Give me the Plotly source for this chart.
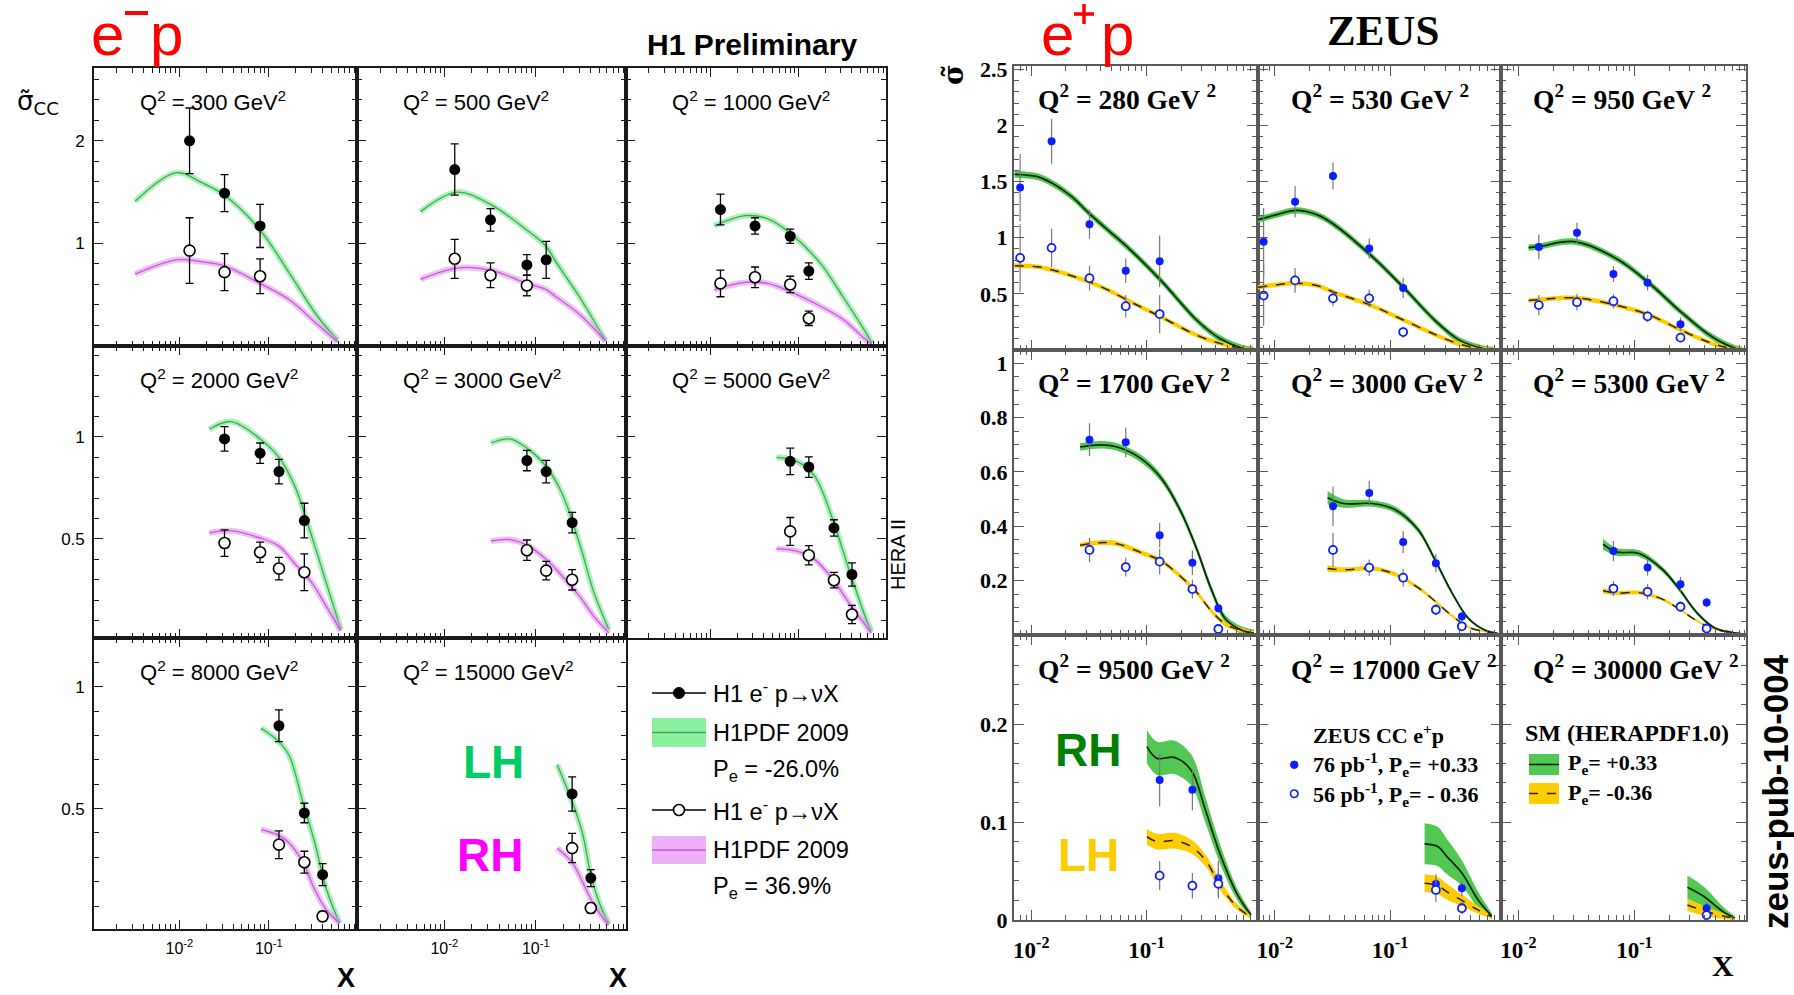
import plotly.graph_objects as go

W, H = 1794, 995

# ======================= H1 (e-p) data =======================
h1_q2_labels = ["300", "500", "1000", "2000", "3000", "5000", "8000", "15000"]

h1_300_x = [0.013, 0.032, 0.08]
h1_300_lh = [2.0, 1.49, 1.17]
h1_300_lh_err = [0.32, 0.18, 0.21]
h1_300_rh_x = [0.013, 0.032, 0.08]
h1_300_rh = [0.93, 0.72, 0.68]
h1_300_rh_err = [0.32, 0.18, 0.17]
h1_300_cx = [0.0032, 0.0093, 0.018, 0.032, 0.08, 0.17, 0.35, 0.59]
h1_300_lh_fit = [1.41, 1.69, 1.59, 1.47, 1.13, 0.71, 0.29, 0.06]
h1_300_rh_fit = [0.70, 0.84, 0.82, 0.78, 0.61, 0.45, 0.21, 0.04]

h1_500_x = [0.013, 0.032, 0.08, 0.13]
h1_500_lh = [1.72, 1.23, 0.79, 0.84]
h1_500_lh_err = [0.25, 0.11, 0.10, 0.18]
h1_500_rh_x = [0.013, 0.032, 0.08]
h1_500_rh = [0.85, 0.69, 0.59]
h1_500_rh_err = [0.19, 0.12, 0.10]
h1_500_cx = [0.0055, 0.0138, 0.032, 0.08, 0.13, 0.166, 0.30, 0.58]
h1_500_lh_fit = [1.31, 1.50, 1.38, 1.13, 0.97, 0.82, 0.48, 0.05]
h1_500_rh_fit = [0.65, 0.76, 0.74, 0.61, 0.55, 0.48, 0.31, 0.05]

h1_1000_x = [0.013, 0.032, 0.08, 0.13]
h1_1000_lh = [1.33, 1.17, 1.07, 0.73]
h1_1000_lh_err = [0.15, 0.08, 0.07, 0.08]
h1_1000_rh_x = [0.013, 0.032, 0.08, 0.13]
h1_1000_rh = [0.61, 0.67, 0.60, 0.27]
h1_1000_rh_err = [0.13, 0.10, 0.08, 0.07]
h1_1000_cx = [0.0111, 0.0245, 0.0447, 0.08, 0.174, 0.316, 0.575, 0.67]
h1_1000_lh_fit = [1.17, 1.27, 1.24, 1.10, 0.81, 0.48, 0.13, 0.03]
h1_1000_rh_fit = [0.55, 0.62, 0.61, 0.53, 0.39, 0.26, 0.06, 0.02]

h1_2000_x = [0.032, 0.08, 0.13, 0.25]
h1_2000_lh = [0.99, 0.92, 0.83, 0.59]
h1_2000_lh_err = [0.06, 0.05, 0.06, 0.085]
h1_2000_rh_x = [0.032, 0.08, 0.13, 0.25]
h1_2000_rh = [0.48, 0.435, 0.355, 0.337]
h1_2000_rh_err = [0.065, 0.05, 0.055, 0.09]
h1_2000_cx = [0.0216, 0.038, 0.08, 0.13, 0.195, 0.304, 0.44, 0.64]
h1_2000_lh_fit = [1.037, 1.075, 0.99, 0.90, 0.76, 0.51, 0.285, 0.057]
h1_2000_rh_fit = [0.53, 0.54, 0.505, 0.465, 0.38, 0.285, 0.17, 0.05]

h1_3000_x = [0.08, 0.13, 0.25]
h1_3000_lh = [0.884, 0.83, 0.58]
h1_3000_lh_err = [0.05, 0.055, 0.05]
h1_3000_rh_x = [0.08, 0.13, 0.25]
h1_3000_rh = [0.445, 0.345, 0.30]
h1_3000_rh_err = [0.05, 0.045, 0.05]
h1_3000_cx = [0.0324, 0.0518, 0.08, 0.13, 0.193, 0.30, 0.434, 0.63]
h1_3000_lh_fit = [0.97, 0.99, 0.945, 0.855, 0.725, 0.48, 0.236, 0.057]
h1_3000_rh_fit = [0.49, 0.497, 0.47, 0.40, 0.32, 0.22, 0.12, 0.04]

h1_5000_x = [0.08, 0.13, 0.25, 0.40]
h1_5000_lh = [0.88, 0.852, 0.554, 0.326]
h1_5000_lh_err = [0.065, 0.05, 0.04, 0.057]
h1_5000_rh_x = [0.08, 0.13, 0.25, 0.40]
h1_5000_rh = [0.537, 0.42, 0.298, 0.13]
h1_5000_rh_err = [0.068, 0.047, 0.038, 0.045]
h1_5000_cx = [0.056, 0.095, 0.15, 0.236, 0.37, 0.58, 0.66]
h1_5000_lh_fit = [0.90, 0.88, 0.81, 0.61, 0.35, 0.106, 0.05]
h1_5000_rh_fit = [0.453, 0.44, 0.40, 0.31, 0.187, 0.073, 0.04]

h1_8000_x = [0.13, 0.25, 0.40]
h1_8000_lh = [0.84, 0.482, 0.229]
h1_8000_lh_err = [0.065, 0.04, 0.045]
h1_8000_rh_x = [0.13, 0.25, 0.40]
h1_8000_rh = [0.352, 0.28, 0.058]
h1_8000_rh_err = [0.057, 0.045, 0.02]
h1_8000_cx = [0.082, 0.125, 0.168, 0.243, 0.327, 0.44, 0.62]
h1_8000_lh_fit = [0.83, 0.78, 0.72, 0.52, 0.36, 0.17, 0.03]
h1_8000_rh_fit = [0.414, 0.393, 0.36, 0.277, 0.167, 0.085, 0.03]

h1_15000_x = [0.25, 0.40]
h1_15000_lh = [0.56, 0.215]
h1_15000_lh_err = [0.07, 0.035]
h1_15000_rh_x = [0.25, 0.40]
h1_15000_rh = [0.338, 0.092]
h1_15000_rh_err = [0.06, 0.02]
h1_15000_cx = [0.172, 0.252, 0.324, 0.404, 0.50, 0.625]
h1_15000_lh_fit = [0.68, 0.525, 0.40, 0.22, 0.11, 0.03]
h1_15000_rh_fit = [0.338, 0.277, 0.20, 0.126, 0.07, 0.023]

# ======================= ZEUS (e+p) data =======================
zeus_q2_labels = ["280", "530", "950", "1700", "3000", "5300", "9500", "17000", "30000"]

z_280_x = [0.008, 0.015, 0.032, 0.066, 0.13]
z_280_pos = [1.447, 1.86, 1.12, 0.706, 0.79]
z_280_pos_err = [0.30, 0.20, 0.13, 0.11, 0.23]
z_280_neg = [0.82, 0.91, 0.64, 0.39, 0.32]
z_280_neg_err = [0.30, 0.17, 0.11, 0.10, 0.17]
z_280_cx = [0.00716, 0.01127, 0.0152, 0.0223, 0.0326, 0.0473, 0.069, 0.1337, 0.2735, 0.4325, 0.682, 0.855]
z_280_pos_fit = [1.565, 1.544, 1.485, 1.368, 1.206, 1.059, 0.912, 0.618, 0.265, 0.103, 0.015, 0.0]
z_280_neg_fit = [0.75, 0.741, 0.712, 0.662, 0.603, 0.53, 0.441, 0.294, 0.132, 0.059, 0.012, 0.0]
z_280_pos_unc = 0.03
z_280_neg_unc = 0.02

z_530_x = [0.008, 0.015, 0.032, 0.066, 0.13]
z_530_pos = [0.965, 1.32, 1.55, 0.905, 0.553]
z_530_pos_err = [0.30, 0.14, 0.12, 0.09, 0.09]
z_530_neg = [0.485, 0.62, 0.46, 0.46, 0.16]
z_530_neg_err = [0.27, 0.11, 0.07, 0.08, 0.05]
z_530_cx = [0.00716, 0.0104, 0.0152, 0.0231, 0.0326, 0.069, 0.132, 0.253, 0.399, 0.63, 0.791]
z_530_pos_fit = [1.162, 1.206, 1.244, 1.206, 1.118, 0.838, 0.553, 0.25, 0.088, 0.015, 0.0]
z_530_neg_fit = [0.559, 0.582, 0.594, 0.574, 0.515, 0.397, 0.265, 0.132, 0.053, 0.009, 0.0]
z_530_pos_unc = 0.028
z_530_neg_unc = 0.02

z_950_x = [0.015, 0.032, 0.066, 0.13, 0.25]
z_950_pos = [0.918, 1.044, 0.676, 0.60, 0.23]
z_950_pos_err = [0.11, 0.09, 0.07, 0.07, 0.06]
z_950_neg = [0.40, 0.426, 0.435, 0.30, 0.11]
z_950_neg_err = [0.09, 0.075, 0.065, 0.05, 0.04]
z_950_cx = [0.01225, 0.0157, 0.0304, 0.0714, 0.1368, 0.253, 0.468, 0.738, 0.855]
z_950_pos_fit = [0.912, 0.926, 0.965, 0.809, 0.588, 0.338, 0.118, 0.015, 0.0]
z_950_neg_fit = [0.441, 0.45, 0.465, 0.397, 0.309, 0.176, 0.059, 0.006, 0.0]
z_950_pos_unc = 0.028
z_950_neg_unc = 0.02

z_1700_x = [0.032, 0.066, 0.13, 0.25, 0.42]
z_1700_pos = [0.719, 0.709, 0.367, 0.266, 0.098]
z_1700_pos_err = [0.06, 0.055, 0.045, 0.045, 0.015]
z_1700_neg = [0.313, 0.25, 0.27, 0.169, 0.022]
z_1700_neg_err = [0.045, 0.035, 0.047, 0.035, 0.01]
z_1700_cx = [0.0265, 0.0395, 0.0556, 0.0877, 0.1337, 0.1945, 0.2735, 0.364, 0.484, 0.682, 0.855]
z_1700_pos_fit = [0.692, 0.70, 0.692, 0.652, 0.578, 0.462, 0.315, 0.169, 0.059, 0.016, 0.006]
z_1700_neg_fit = [0.33, 0.34, 0.336, 0.305, 0.273, 0.218, 0.156, 0.089, 0.04, 0.016, 0.006]
z_1700_pos_unc = 0.014
z_1700_neg_unc = 0.009

z_3000_x = [0.032, 0.066, 0.13, 0.25, 0.42]
z_3000_pos = [0.474, 0.523, 0.342, 0.264, 0.068]
z_3000_pos_err = [0.073, 0.045, 0.04, 0.033, 0.018]
z_3000_neg = [0.313, 0.248, 0.211, 0.093, 0.032]
z_3000_neg_err = [0.063, 0.03, 0.033, 0.02, 0.012]
z_3000_cx = [0.0287, 0.0395, 0.0698, 0.110, 0.174, 0.244, 0.344, 0.484, 0.682, 0.855]
z_3000_pos_fit = [0.505, 0.484, 0.484, 0.462, 0.389, 0.279, 0.156, 0.059, 0.016, 0.006]
z_3000_neg_fit = [0.245, 0.24, 0.245, 0.224, 0.175, 0.126, 0.071, 0.028, 0.012, 0.005]
z_3000_pos_unc = [0.025, 0.016, 0.012, 0.012, 0.011, 0.01, 0.008, 0.006, 0.004, 0.003]
z_3000_neg_unc = [0.012, 0.009, 0.008, 0.008, 0.007, 0.006, 0.005, 0.004, 0.003, 0.002]

z_5300_x = [0.066, 0.13, 0.25, 0.42]
z_5300_pos = [0.309, 0.248, 0.187, 0.12]
z_5300_pos_err = [0.037, 0.03, 0.027, 0.018]
z_5300_neg = [0.171, 0.159, 0.104, 0.024]
z_5300_neg_err = [0.028, 0.028, 0.02, 0.01]
z_5300_cx = [0.0537, 0.0698, 0.110, 0.174, 0.244, 0.344, 0.484, 0.682, 0.855]
z_5300_pos_fit = [0.334, 0.306, 0.30, 0.242, 0.169, 0.083, 0.028, 0.01, 0.004]
z_5300_neg_fit = [0.163, 0.154, 0.156, 0.132, 0.095, 0.053, 0.022, 0.01, 0.004]
z_5300_pos_unc = [0.02, 0.014, 0.012, 0.01, 0.009, 0.007, 0.005, 0.003, 0.002]
z_5300_neg_unc = [0.01, 0.008, 0.007, 0.006, 0.005, 0.004, 0.003, 0.002, 0.002]

z_9500_x = [0.13, 0.25, 0.42]
z_9500_pos = [0.143, 0.133, 0.0426]
z_9500_pos_err = [0.027, 0.021, 0.018]
z_9500_neg = [0.0453, 0.035, 0.037]
z_9500_neg_err = [0.015, 0.013, 0.015]
z_9500_cx = [0.1007, 0.1233, 0.174, 0.244, 0.325, 0.4325, 0.608, 0.807]
z_9500_pos_fit = [0.177, 0.165, 0.166, 0.153, 0.112, 0.068, 0.027, 0.005]
z_9500_neg_fit = [0.085, 0.08, 0.081, 0.075, 0.061, 0.036, 0.0136, 0.003]
z_9500_pos_unc = [0.017, 0.017, 0.017, 0.016, 0.013, 0.01, 0.006, 0.003]
z_9500_neg_unc = [0.008, 0.008, 0.008, 0.007, 0.006, 0.005, 0.003, 0.002]

z_17000_x = [0.25, 0.42]
z_17000_pos = [0.0368, 0.0324]
z_17000_pos_err = [0.01, 0.008]
z_17000_neg = [0.0307, 0.012]
z_17000_neg_err = [0.012, 0.006]
z_17000_cx = [0.1995, 0.26, 0.3105, 0.42, 0.586, 0.764]
z_17000_pos_fit = [0.0778, 0.075, 0.065, 0.048, 0.020, 0.004]
z_17000_neg_fit = [0.0376, 0.035, 0.029, 0.020, 0.010, 0.0034]
z_17000_pos_unc = [0.021, 0.02, 0.018, 0.013, 0.008, 0.003]
z_17000_neg_unc = [0.009, 0.009, 0.008, 0.006, 0.004, 0.002]

z_30000_x = [0.42]
z_30000_pos = [0.012]
z_30000_pos_err = [0.006]
z_30000_neg = [0.005]
z_30000_neg_err = [0.004]
z_30000_cx = [0.287, 0.398, 0.583, 0.733]
z_30000_pos_fit = [0.0335, 0.024, 0.0085, 0.002]
z_30000_neg_fit = [0.0153, 0.0095, 0.004, 0.002]
z_30000_pos_unc = [0.012, 0.010, 0.005, 0.002]
z_30000_neg_unc = [0.006, 0.005, 0.003, 0.002]

# ======================= layout geometry (pixels) =======================
H1_COLS = [94, 357, 626, 886]
H1_ROWS = [68, 346, 638, 929]
H1_YRANGES = [[0.0, 2.71], [0.015, 1.445], [0.006, 1.2]]
H1_YTICKS = [[1, 2], [0.5, 1], [0.5, 1]]
H1_YMINOR = [0.2, 0.1, 0.1]
H1_XRANGE = [-2.955, -0.013]

Z_COLS = [1014, 1257.5, 1501, 1746]
Z_ROWS = [66, 350, 635, 920]
Z_YRANGES = [[0.0, 2.53], [0.0, 1.049], [0.0, 0.291]]
Z_YTICKS = [[0.5, 1, 1.5, 2, 2.5], [0.2, 0.4, 0.6, 0.8, 1], [0, 0.1, 0.2]]
Z_YTEXT = [["0.5", "1", "1.5", "2", "2.5"], ["0.2", "0.4", "0.6", "0.8", "1"], ["0", "0.1", "0.2"]]
Z_YMINOR = [0.1, 0.05, 0.02]
Z_XRANGE = [-2.15, -0.037]

SANS = "Liberation Sans, Arial, sans-serif"
SERIF = "Liberation Serif, Times New Roman, serif"

H1_GREEN_BAND = "rgba(110,225,135,0.55)"
H1_GREEN_LINE = "#37ad4c"
H1_PURPLE_BAND = "rgba(225,140,240,0.55)"
H1_PURPLE_LINE = "#c45ad4"
Z_GREEN = "#52c852"
Z_YELLOW = "#ffcc00"
Z_BLUE = "#0a1eff"
RED = "#ff0000"

LOG_MINOR = [k * 10.0 ** e for e in (-3, -2, -1) for k in range(2, 10)]


def px(x):
    return x / W


def py(y):
    return 1 - y / H


def aname(kind, n):
    return f"{kind}axis" + ("" if n == 1 else str(n))


def aref(kind, n):
    return kind + ("" if n == 1 else str(n))


def minor_lin(lo, hi, step, majors):
    vals = []
    k = 0
    while k * step <= hi + 1e-9:
        v = round(k * step, 4)
        if v >= lo and all(abs(v - m) > 1e-6 for m in majors):
            vals.append(v)
        k += 1
    return vals


fig = go.Figure()
axes = {}
annotations = []
shapes = []


def text(t, x, y, size, family=SANS, color="black", weight="normal", xa="center", angle=0, ya="middle"):
    annotations.append(dict(text=t, x=px(x), y=py(y), xref="paper", yref="paper",
                            xanchor=xa, yanchor=ya, showarrow=False, textangle=angle,
                            font=dict(family=family, size=size, color=color, weight=weight)))


def seg(x0, y0, x1, y1, color, width, dash="solid"):
    shapes.append(dict(type="line", xref="paper", yref="paper", x0=px(x0), x1=px(x1),
                       y0=py(y0), y1=py(y1), line=dict(color=color, width=width, dash=dash)))


# ----------------------- H1 panels -----------------------
h1_panels = [
    (0, 0, "300", h1_300_x, h1_300_lh, h1_300_lh_err, h1_300_rh_x, h1_300_rh, h1_300_rh_err, h1_300_cx, h1_300_lh_fit, h1_300_rh_fit),
    (0, 1, "500", h1_500_x, h1_500_lh, h1_500_lh_err, h1_500_rh_x, h1_500_rh, h1_500_rh_err, h1_500_cx, h1_500_lh_fit, h1_500_rh_fit),
    (0, 2, "1000", h1_1000_x, h1_1000_lh, h1_1000_lh_err, h1_1000_rh_x, h1_1000_rh, h1_1000_rh_err, h1_1000_cx, h1_1000_lh_fit, h1_1000_rh_fit),
    (1, 0, "2000", h1_2000_x, h1_2000_lh, h1_2000_lh_err, h1_2000_rh_x, h1_2000_rh, h1_2000_rh_err, h1_2000_cx, h1_2000_lh_fit, h1_2000_rh_fit),
    (1, 1, "3000", h1_3000_x, h1_3000_lh, h1_3000_lh_err, h1_3000_rh_x, h1_3000_rh, h1_3000_rh_err, h1_3000_cx, h1_3000_lh_fit, h1_3000_rh_fit),
    (1, 2, "5000", h1_5000_x, h1_5000_lh, h1_5000_lh_err, h1_5000_rh_x, h1_5000_rh, h1_5000_rh_err, h1_5000_cx, h1_5000_lh_fit, h1_5000_rh_fit),
    (2, 0, "8000", h1_8000_x, h1_8000_lh, h1_8000_lh_err, h1_8000_rh_x, h1_8000_rh, h1_8000_rh_err, h1_8000_cx, h1_8000_lh_fit, h1_8000_rh_fit),
    (2, 1, "15000", h1_15000_x, h1_15000_lh, h1_15000_lh_err, h1_15000_rh_x, h1_15000_rh, h1_15000_rh_err, h1_15000_cx, h1_15000_lh_fit, h1_15000_rh_fit),
]

H1_LINE = "#1a1a1a"
n = 0
for (r, c, q2, lx, ly, le, rx, ry, re_, cx, lfit, rfit) in h1_panels:
    n += 1
    x0, x1 = H1_COLS[c], H1_COLS[c + 1]
    y0, y1 = H1_ROWS[r], H1_ROWS[r + 1]
    show_x = (r == 2)
    yr = H1_YRANGES[r]
    axes[aname("x", n)] = dict(
        type="log", range=H1_XRANGE, domain=[px(x0), px(x1)], anchor=aref("y", n),
        showline=True, linecolor=H1_LINE, linewidth=1.6, mirror="allticks",
        ticks="inside", ticklen=9, tickwidth=1.3, tickcolor=H1_LINE,
        tickmode="array", tickvals=[0.01, 0.1],
        ticktext=["10<sup>-2</sup>", "10<sup>-1</sup>"],
        showticklabels=show_x, ticklabelstandoff=4, automargin=False,
        tickfont=dict(family=SANS, size=16, color="black"),
        minor=dict(tickmode="array", tickvals=LOG_MINOR, ticks="inside", ticklen=5,
                   tickwidth=1.1, tickcolor=H1_LINE),
        showgrid=False, zeroline=False, fixedrange=True,
    )
    axes[aname("y", n)] = dict(
        range=yr, domain=[py(y1), py(y0)], anchor=aref("x", n),
        showline=True, linecolor=H1_LINE, linewidth=1.6, mirror="allticks",
        ticks="inside", ticklen=9, tickwidth=1.3, tickcolor=H1_LINE,
        tickmode="array", tickvals=H1_YTICKS[r], ticktext=[str(v) for v in H1_YTICKS[r]],
        showticklabels=(c == 0), ticklabelstandoff=4, automargin=False,
        tickfont=dict(family=SANS, size=17, color="black"),
        minor=dict(tickmode="array", tickvals=minor_lin(yr[0], yr[1], H1_YMINOR[r], H1_YTICKS[r]),
                   ticks="inside", ticklen=5, tickwidth=1.1, tickcolor=H1_LINE),
        showgrid=False, zeroline=False, fixedrange=True,
    )
    xa, ya = aref("x", n), aref("y", n)
    for fit, band, line in ((lfit, H1_GREEN_BAND, H1_GREEN_LINE), (rfit, H1_PURPLE_BAND, H1_PURPLE_LINE)):
        fig.add_trace(go.Scatter(x=cx, y=fit, mode="lines", xaxis=xa, yaxis=ya, hoverinfo="skip",
                                 line=dict(color=band, width=6, shape="spline", smoothing=1.0)))
        fig.add_trace(go.Scatter(x=cx, y=fit, mode="lines", xaxis=xa, yaxis=ya, hoverinfo="skip",
                                 line=dict(color=line, width=1.3, shape="spline", smoothing=1.0)))
    fig.add_trace(go.Scatter(x=rx, y=ry, mode="markers", xaxis=xa, yaxis=ya,
                             marker=dict(size=11, color="white", line=dict(color="black", width=1.6)),
                             error_y=dict(type="data", array=re_, color="black", thickness=1.3, width=4)))
    fig.add_trace(go.Scatter(x=lx, y=ly, mode="markers", xaxis=xa, yaxis=ya,
                             marker=dict(size=11, color="black"),
                             error_y=dict(type="data", array=le, color="black", thickness=1.3, width=4)))
    text(f"Q<sup>2</sup> = {q2} GeV<sup>2</sup>", x0 + 44, y0 + 33, 22, xa="left")

# ----------------------- ZEUS panels -----------------------
z_panels = [
    (0, 0, "280", z_280_x, z_280_pos, z_280_pos_err, z_280_neg, z_280_neg_err, z_280_cx, z_280_pos_fit, z_280_neg_fit, z_280_pos_unc, z_280_neg_unc),
    (0, 1, "530", z_530_x, z_530_pos, z_530_pos_err, z_530_neg, z_530_neg_err, z_530_cx, z_530_pos_fit, z_530_neg_fit, z_530_pos_unc, z_530_neg_unc),
    (0, 2, "950", z_950_x, z_950_pos, z_950_pos_err, z_950_neg, z_950_neg_err, z_950_cx, z_950_pos_fit, z_950_neg_fit, z_950_pos_unc, z_950_neg_unc),
    (1, 0, "1700", z_1700_x, z_1700_pos, z_1700_pos_err, z_1700_neg, z_1700_neg_err, z_1700_cx, z_1700_pos_fit, z_1700_neg_fit, z_1700_pos_unc, z_1700_neg_unc),
    (1, 1, "3000", z_3000_x, z_3000_pos, z_3000_pos_err, z_3000_neg, z_3000_neg_err, z_3000_cx, z_3000_pos_fit, z_3000_neg_fit, z_3000_pos_unc, z_3000_neg_unc),
    (1, 2, "5300", z_5300_x, z_5300_pos, z_5300_pos_err, z_5300_neg, z_5300_neg_err, z_5300_cx, z_5300_pos_fit, z_5300_neg_fit, z_5300_pos_unc, z_5300_neg_unc),
    (2, 0, "9500", z_9500_x, z_9500_pos, z_9500_pos_err, z_9500_neg, z_9500_neg_err, z_9500_cx, z_9500_pos_fit, z_9500_neg_fit, z_9500_pos_unc, z_9500_neg_unc),
    (2, 1, "17000", z_17000_x, z_17000_pos, z_17000_pos_err, z_17000_neg, z_17000_neg_err, z_17000_cx, z_17000_pos_fit, z_17000_neg_fit, z_17000_pos_unc, z_17000_neg_unc),
    (2, 2, "30000", z_30000_x, z_30000_pos, z_30000_pos_err, z_30000_neg, z_30000_neg_err, z_30000_cx, z_30000_pos_fit, z_30000_neg_fit, z_30000_pos_unc, z_30000_neg_unc),
]

Z_LINE = "#595959"
Z_QX = [22, 31, 30]
for (r, c, q2, xs, pos, pos_e, neg, neg_e, cx, pfit, nfit, punc, nunc) in z_panels:
    n += 1
    x0, x1 = Z_COLS[c], Z_COLS[c + 1]
    y0, y1 = Z_ROWS[r], Z_ROWS[r + 1]
    yr = Z_YRANGES[r]
    axes[aname("x", n)] = dict(
        type="log", range=Z_XRANGE, domain=[px(x0), px(x1)], anchor=aref("y", n),
        showline=True, linecolor=Z_LINE, linewidth=2.4, mirror="allticks",
        ticks="inside", ticklen=10, tickwidth=1.3, tickcolor=Z_LINE,
        tickmode="array", tickvals=[0.01, 0.1],
        ticktext=["10<sup>-2</sup>", "10<sup>-1</sup>"],
        showticklabels=(r == 2), ticklabelstandoff=8, automargin=False,
        tickfont=dict(family=SERIF, size=23, color="black", weight="bold"),
        minor=dict(tickmode="array", tickvals=LOG_MINOR, ticks="inside", ticklen=5,
                   tickwidth=1.0, tickcolor=Z_LINE),
        showgrid=False, zeroline=False, fixedrange=True,
    )
    axes[aname("y", n)] = dict(
        range=yr, domain=[py(y1), py(y0)], anchor=aref("x", n),
        showline=True, linecolor=Z_LINE, linewidth=2.4, mirror="allticks",
        ticks="inside", ticklen=10, tickwidth=1.3, tickcolor=Z_LINE,
        tickmode="array", tickvals=Z_YTICKS[r], ticktext=Z_YTEXT[r],
        showticklabels=(c == 0), automargin=False,
        tickfont=dict(family=SERIF, size=22, color="black", weight="bold"),
        minor=dict(tickmode="array", tickvals=minor_lin(yr[0], yr[1], Z_YMINOR[r], Z_YTICKS[r]),
                   ticks="inside", ticklen=5, tickwidth=1.0, tickcolor=Z_LINE),
        showgrid=False, zeroline=False, fixedrange=True,
    )
    xa, ya = aref("x", n), aref("y", n)
    for fit, unc, col in ((pfit, punc, Z_GREEN), (nfit, nunc, Z_YELLOW)):
        hw = unc if isinstance(unc, list) else [unc] * len(fit)
        lo = [v - h for v, h in zip(fit, hw)]
        hi = [v + h for v, h in zip(fit, hw)]
        fig.add_trace(go.Scatter(x=cx, y=lo, mode="lines", xaxis=xa, yaxis=ya, hoverinfo="skip",
                                 line=dict(width=0, color=col, shape="spline", smoothing=1.0)))
        fig.add_trace(go.Scatter(x=cx, y=hi, mode="lines", xaxis=xa, yaxis=ya, hoverinfo="skip",
                                 fill="tonexty", fillcolor=col,
                                 line=dict(width=0, color=col, shape="spline", smoothing=1.0)))
    fig.add_trace(go.Scatter(x=cx, y=pfit, mode="lines", xaxis=xa, yaxis=ya, hoverinfo="skip",
                             line=dict(color="#0c250c", width=1.7, shape="spline", smoothing=1.0)))
    fig.add_trace(go.Scatter(x=cx, y=nfit, mode="lines", xaxis=xa, yaxis=ya, hoverinfo="skip",
                             line=dict(color="#222222", width=1.5, dash="dash", shape="spline", smoothing=1.0)))
    fig.add_trace(go.Scatter(x=xs, y=pos, mode="markers", xaxis=xa, yaxis=ya,
                             marker=dict(size=8, color=Z_BLUE),
                             error_y=dict(type="data", array=pos_e, color="#777777", thickness=1.2, width=0)))
    fig.add_trace(go.Scatter(x=xs, y=neg, mode="markers", xaxis=xa, yaxis=ya,
                             marker=dict(size=8, color="white", line=dict(color=Z_BLUE, width=1.8)),
                             error_y=dict(type="data", array=neg_e, color="#777777", thickness=1.2, width=0)))
    text(f"Q<sup>2</sup> = {q2} GeV <sup>2</sup>", x0 + Z_QX[c], y0 + 32, 27.5,
         family=SERIF, weight="bold", xa="left")

# ----------------------- titles & labels -----------------------
# e-p  (letters as text, charge sign as strokes so nothing runs off the top edge)
text("e", 107, 34, 60, color=RED)
text("p", 166, 34, 60, color=RED)
seg(125, 13, 148, 13, RED, 4)
text("e", 1057, 34, 60, color=RED)
text("p", 1117, 34, 60, color=RED)
seg(1074, 14, 1094, 14, RED, 3.5)
seg(1084, 4, 1084, 24, RED, 3.5)

text("H1 Preliminary", 752, 45, 30, weight="bold")
text("ZEUS", 1383, 30, 43, family=SERIF, weight="bold")
text("σ̃<sub>CC</sub>", 38, 102, 26, family="DejaVu Sans")
text("σ̃", 953, 75, 28, family="DejaVu Serif", weight="bold", angle=-90)
text("X", 346, 995, 27, weight="bold", ya="bottom")
text("X", 618, 995, 27, weight="bold", ya="bottom")
text("X", 1723, 965, 30, family=SERIF, weight="bold")
text("HERA II", 898, 555, 20, angle=-90)
text("zeus-pub-10-004", 1775, 792, 35, weight="bold", angle=-90)

text("LH", 493, 762, 46, color="#00cc66", weight="bold")
text("RH", 490, 855, 46, color="#ff00ff", weight="bold")
text("RH", 1088, 750, 46, color="#008000", weight="bold")
text("LH", 1088, 855, 46, color="#ffcc00", weight="bold")

# ----------------------- H1 legend -----------------------
LX0, LX1 = 652, 706
seg(LX0, 693, LX1, 693, "black", 1.6)
shapes.append(dict(type="circle", xref="paper", yref="paper", x0=px(673.5), x1=px(684.5), y0=py(687.5), y1=py(698.5),
                   fillcolor="black", line=dict(color="black", width=1)))
shapes.append(dict(type="rect", xref="paper", yref="paper", x0=px(LX0), x1=px(LX1), y0=py(747), y1=py(718),
                   fillcolor="#8cf0a0", line=dict(width=0)))
seg(LX0, 732.5, LX1, 732.5, H1_GREEN_LINE, 1.6)
seg(LX0, 810, LX1, 810, "black", 1.6)
shapes.append(dict(type="circle", xref="paper", yref="paper", x0=px(673.5), x1=px(684.5), y0=py(804.5), y1=py(815.5),
                   fillcolor="white", line=dict(color="black", width=1.6)))
shapes.append(dict(type="rect", xref="paper", yref="paper", x0=px(LX0), x1=px(LX1), y0=py(864), y1=py(836),
                   fillcolor="#ebb0f5", line=dict(width=0)))
seg(LX0, 850, LX1, 850, H1_PURPLE_LINE, 1.6)
text("H1 e<sup>-</sup> p→νX", 711, 692, 23.5, xa="left")
text("H1PDF 2009", 711, 733, 23.5, xa="left")
text("P<sub>e</sub> = -26.0%", 711, 770, 23.5, xa="left")
text("H1 e<sup>-</sup> p→νX", 711, 810, 23.5, xa="left")
text("H1PDF 2009", 711, 850, 23.5, xa="left")
text("P<sub>e</sub> = 36.9%", 711, 887, 23.5, xa="left")

# ----------------------- ZEUS legend -----------------------
shapes.append(dict(type="circle", xref="paper", yref="paper", x0=px(1290.5), x1=px(1298), y0=py(761), y1=py(768.5),
                   fillcolor=Z_BLUE, line=dict(color=Z_BLUE, width=1)))
shapes.append(dict(type="circle", xref="paper", yref="paper", x0=px(1290.5), x1=px(1298), y0=py(790), y1=py(797.5),
                   fillcolor="white", line=dict(color=Z_BLUE, width=1.6)))
shapes.append(dict(type="rect", xref="paper", yref="paper", x0=px(1529), x1=px(1559), y0=py(775), y1=py(754),
                   fillcolor=Z_GREEN, line=dict(width=0)))
seg(1529, 764.5, 1559, 764.5, "#0c250c", 1.6)
shapes.append(dict(type="rect", xref="paper", yref="paper", x0=px(1529), x1=px(1559), y0=py(804), y1=py(783),
                   fillcolor=Z_YELLOW, line=dict(width=0)))
seg(1529, 793.5, 1559, 793.5, "#222222", 1.5, dash="dash")
text("ZEUS CC e<sup>+</sup>p", 1311, 734, 22, family=SERIF, weight="bold", xa="left")
text("76 pb<sup>-1</sup>, P<sub>e</sub>= +0.33", 1311, 764, 22, family=SERIF, weight="bold", xa="left")
text("56 pb<sup>-1</sup>, P<sub>e</sub>= - 0.36", 1311, 794, 22, family=SERIF, weight="bold", xa="left")
text("SM (HERAPDF1.0)", 1523, 733, 24, family=SERIF, weight="bold", xa="left")
text("P<sub>e</sub>= +0.33", 1566, 764, 22, family=SERIF, weight="bold", xa="left")
text("P<sub>e</sub>= -0.36", 1566, 794, 22, family=SERIF, weight="bold", xa="left")

fig.update_layout(
    width=W, height=H, autosize=False,
    margin=dict(l=0, r=0, t=0, b=0, pad=0, autoexpand=False),
    paper_bgcolor="white", plot_bgcolor="white",
    showlegend=False, annotations=annotations, shapes=shapes,
    font=dict(family=SANS, color="black"),
    **axes,
)

fig.write_html("out.html")
